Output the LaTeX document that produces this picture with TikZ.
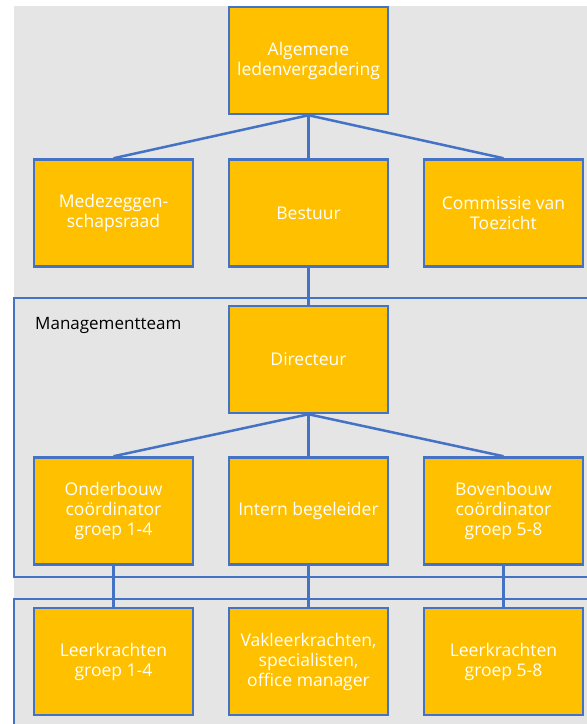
\documentclass[tikz,border=0pt]{standalone}
\usepackage{fontspec}
\setmainfont{Open Sans}
\definecolor{orgfill}{HTML}{FFC000}
\definecolor{orgline}{HTML}{4472C4}
\definecolor{bggray}{HTML}{E5E5E5}
\begin{document}
\begin{tikzpicture}[x=1pt,y=-1pt,
  orgbox/.style={draw=orgline,line width=2.5pt,fill=orgfill,text=white,
    minimum width=159pt,minimum height=107pt,inner sep=2pt,align=center,
    font=\fontsize{17.5}{20}\selectfont},
  conn/.style={draw=orgline,line width=2.5pt},
  frame/.style={draw=orgline,line width=2.5pt}]
\useasboundingbox (0,0) rectangle (587,724);
\clip (0,0) rectangle (587,724);
\fill[bggray] (14,6) rectangle (600,730);
\draw[frame] (14,298) rectangle (620,577);
\draw[frame] (14,599) rectangle (620,760);
\node[anchor=base west,font=\fontsize{17}{20}\selectfont,text=black,inner sep=0pt] (mt) at (35,329) {Managementteam};
\node[orgbox] (alv) at (308.5,60.5) {Algemene\\ledenvergadering};
\node[orgbox] (mr) at (113.5,213) {Medezeggen-\\schapsraad};
\node[orgbox] (bes) at (308.5,213) {Bestuur};
\node[orgbox] (cvt) at (503.5,213) {Commissie van\\Toezicht};
\node[orgbox] (dir) at (308.5,359.5) {Directeur};
\node[orgbox] (ob) at (113.5,511) {Onderbouw\\coördinator\\groep 1-4};
\node[orgbox] (ib) at (308.5,511) {Intern begeleider};
\node[orgbox] (bb) at (503.5,511) {Bovenbouw\\coördinator\\groep 5-8};
\node[orgbox] (lk1) at (113.5,661.5) {Leerkrachten\\groep 1-4};
\node[orgbox] (vak) at (308.5,661.5) {Vakleerkrachten,\\specialisten,\\office manager};
\node[orgbox] (lk2) at (503.5,661.5) {Leerkrachten\\groep 5-8};
\draw[conn] (alv.south) -- (mr.north);
\draw[conn] (alv.south) -- (bes.north);
\draw[conn] (alv.south) -- (cvt.north);
\draw[conn] (bes.south) -- (dir.north);
\draw[conn] (dir.south) -- (ob.north);
\draw[conn] (dir.south) -- (ib.north);
\draw[conn] (dir.south) -- (bb.north);
\draw[conn] (ob.south) -- (lk1.north);
\draw[conn] (ib.south) -- (vak.north);
\draw[conn] (bb.south) -- (lk2.north);
\end{tikzpicture}
\end{document}
